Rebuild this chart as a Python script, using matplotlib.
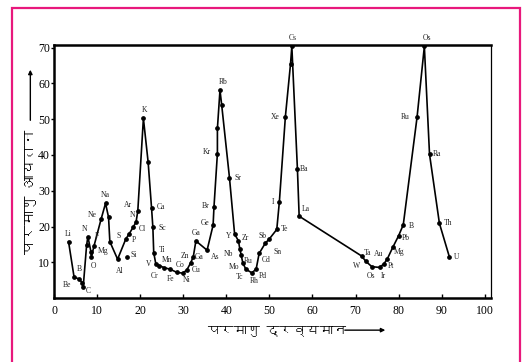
import matplotlib
matplotlib.use("Agg")
import matplotlib.pyplot as plt
from matplotlib import font_manager
from matplotlib.ft2font import FT2Font
from matplotlib.patches import Rectangle

# ---- data ----
labels = ["Li", "Be", "B", "", "C", "", "N", "", "O", "F", "Ne", "Na", "", "Mg", "Al",
          "S", "P", "Cl", "N", "Ar", "K", "", "Ca", "Sc", "Ti", "V", "Cr", "Mn", "Fe",
          "Co", "Ni", "Cu", "Zn", "Ga", "Ga", "As", "Ge", "Br", "Kr", "", "Rb", "",
          "Sr", "Y", "Zr", "Nb", "Ru", "Mo", "Tc", "Rh", "Pd", "Cd", "Sn", "Sb", "Te",
          "I", "Xe", "", "Cs", "Ba", "La", "W", "Ta", "Os", "Ir", "Au", "Pt", "Mg",
          "Pb", "B", "Ru", "Os", "Ra", "Th", "U"]
mass = [3.3, 4.6, 5.8, 6.5, 6.7, 7.5, 7.8, 8.5, 8.6, 9.2, 10.85, 11.9, 12.6, 12.9, 14.7,
        16.6, 17.4, 18.3, 19.0, 19.4, 20.7, 21.8, 22.6, 22.9, 23.1, 23.6, 24.4, 25.6, 26.9,
        28.5, 29.85, 30.8, 31.7, 32.3, 32.9, 35.5, 36.9, 37.1, 37.9, 37.9, 38.5, 38.9,
        40.7, 41.9, 42.8, 43.1, 43.4, 43.8, 44.5, 45.9, 46.9, 47.6, 49.0, 50.0, 51.7,
        52.3, 53.7, 54.9, 55.2, 56.5, 56.9, 71.4, 72.4, 73.8, 75.6, 76.6, 77.4, 78.7,
        80.0, 81.1, 84.3, 86.0, 87.2, 89.5, 91.8]
volume = [15.8, 5.8, 5.4, 4.2, 3.0, 14.8, 17.2, 13.0, 11.4, 14.5, 22.0, 26.5, 22.6, 15.8, 10.9,
          16.5, 18.0, 19.8, 21.3, 24.4, 50.2, 38.0, 25.1, 19.8, 12.7, 9.5, 9.1, 8.5, 8.1,
          7.2, 7.0, 7.9, 9.9, 11.6, 16.0, 13.4, 20.4, 25.4, 40.4, 47.4, 58.1, 53.9,
          33.7, 17.9, 16.0, 13.8, 12.2, 9.9, 8.1, 7.1, 8.1, 12.5, 15.3, 16.6, 19.2,
          26.9, 50.7, 65.5, 70.3, 36.0, 22.9, 11.8, 10.3, 8.8, 8.6, 9.6, 11.0, 14.3,
          17.4, 20.5, 50.5, 70.3, 40.2, 20.9, 11.6]
# isolated point
si_mass, si_volume = [16.8], [11.4]

x_ticks = [0, 10, 20, 30, 40, 50, 60, 70, 80, 90, 100]
y_ticks = [10, 20, 30, 40, 50, 60, 70]
x_title = "परमाणु द्रव्यमान"
y_title = "परमाणु आयतन"

# label offsets in pixels (dx, dy)
offsets = {
    "Li": (0, 8), "Be": (-7, -8), "B": (0, 10), "C": (5, -4), "N": (-3, 8),
    "O": (2, -9), "F": (3, 10), "Ne": (-9, 4), "Na": (0, 8), "Mg": (-7, -9),
    "Al": (2, -12), "S": (-7, 3), "P": (5, -6), "Cl": (9, -2), "Ar": (-10, 6),
    "K": (1, 8), "Ca": (9, 1), "Sc": (9, -1), "Ti": (8, 3), "V": (-7, 0),
    "Cr": (-5, -10), "Mn": (3, 8), "Fe": (0, -10), "Co": (3, 7), "Ni": (4, -7),
    "Cu": (9, 0), "Zn": (-6, 7), "As": (8, -7), "Ge": (-8, 2), "Br": (-8, 1),
    "Kr": (-11, 2), "Rb": (3, 8), "Sr": (8, 0), "Y": (-6, -2), "Zr": (7, 3),
    "Nb": (-11, -5), "Mo": (-9, -4), "Tc": (-6, -8), "Rh": (2, -8), "Pd": (7, -7),
    "Cd": (7, -7), "Sn": (12, -9), "Sb": (-7, 3), "Te": (8, 0), "I": (-6, 0),
    "Xe": (-10, 0), "Cs": (1, 8), "Ba": (7, 0), "La": (7, 7), "W": (-5, -10),
    "Ta": (2, 8), "Ir": (4, -9), "Au": (-5, 10), "Pt": (4, -7), "Pb": (7, -2),
    "Th": (9, 0), "U": (7, 0), "Ra": (7, 0),
}
# labels used twice get their own offsets by index
index_offsets = {2: (0, 10), 6: (-3, 8), 18: (-4, 7), 13: (-7, -9), 33: (6, 0),
                 34: (0, 8), 46: (7, -6), 63: (-1, -9), 67: (6, -5), 69: (8, -1),
                 70: (-12, 0), 71: (3, 8)}


def find_font(ch):
    for f in font_manager.fontManager.ttflist:
        try:
            if ord(ch) in FT2Font(f.fname).get_charmap():
                return f.name
        except Exception:
            pass
    return None


deva = find_font("प")
deva_family = [deva, "DejaVu Sans"] if deva else ["DejaVu Sans"]

plt.rcParams["font.family"] = ["Liberation Serif", "DejaVu Serif"]

fig = plt.figure(figsize=(5.23, 3.62), dpi=100)
fig.patch.set_facecolor("white")
ax = fig.add_axes([0.1039, 0.1762, 0.835, 0.6995])

ax.plot(mass, volume, color="black", lw=1.2, marker="o", ms=2.4, zorder=3)
ax.plot(si_mass, si_volume, ls="none", color="black", marker="o", ms=2.4)

for i, (lab, xv, yv) in enumerate(zip(labels, mass, volume)):
    if not lab:
        continue
    dx, dy = index_offsets.get(i, offsets.get(lab, (6, 0)))
    ax.annotate(lab, (xv, yv), xytext=(dx, dy), textcoords="offset pixels",
                ha="center", va="center", fontsize=5.5, color="#222222")
ax.annotate("Si", (si_mass[0], si_volume[0]), xytext=(7, 2), textcoords="offset pixels",
            ha="center", va="center", fontsize=5.5, color="#222222")

ax.set_xlim(0, 101.5)
ax.set_ylim(0, 70.7)
ax.set_xticks(x_ticks)
ax.set_yticks(y_ticks)
ax.tick_params(axis="x", direction="in", length=3, width=1, pad=5, labelsize=8.5)
ax.tick_params(axis="y", direction="out", length=2.5, width=1, pad=0.5, labelsize=8.5)
for s in ["left", "bottom", "top"]:
    ax.spines[s].set_linewidth(1.8)
ax.spines["right"].set_linewidth(0.9)

# axis titles with arrows
fig.text(0.529, 0.088, x_title, family=deva_family, fontsize=9.5, ha="center", va="center")
ax.annotate("", xy=(0.742, 0.088), xytext=(0.654, 0.088), xycoords="figure fraction",
            arrowprops=dict(arrowstyle="-|>", color="black", lw=1, mutation_scale=6))
fig.text(0.058, 0.47, y_title, family=deva_family, fontsize=10.5, rotation=90,
         ha="center", va="center")
ax.annotate("", xy=(0.058, 0.815), xytext=(0.058, 0.66), xycoords="figure fraction",
            arrowprops=dict(arrowstyle="-|>", color="black", lw=1, mutation_scale=6))

# pink frame round the figure
fig.add_artist(Rectangle((12 / 523, -0.02), 508 / 523, 1 - 8 / 362 + 0.02,
                         transform=fig.transFigure, fill=False, edgecolor="#e8187c", lw=1.6))

fig.savefig("out.png", dpi=100)
